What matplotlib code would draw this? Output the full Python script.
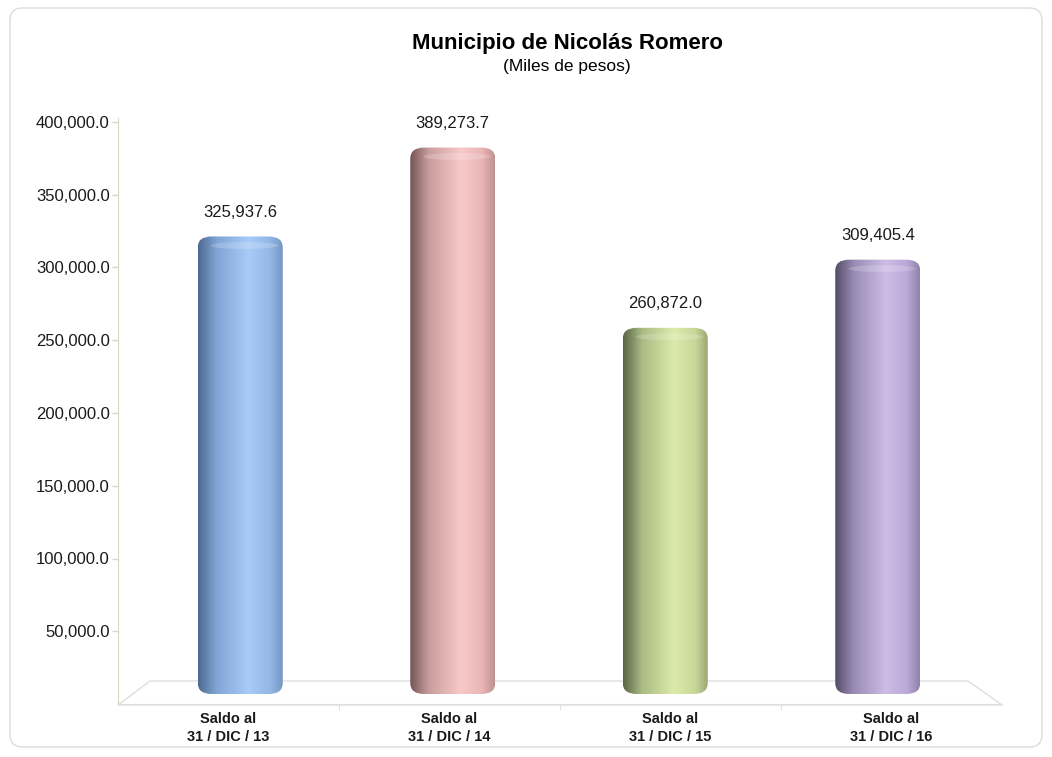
import numpy as np
import matplotlib
matplotlib.use("Agg")
import matplotlib.pyplot as plt
from matplotlib.patches import FancyBboxPatch, Polygon, Ellipse
from matplotlib.colors import to_rgb
from matplotlib.ticker import FuncFormatter, FixedLocator

# ---- data ----
categories = ["Saldo al\n31 / DIC / 13", "Saldo al\n31 / DIC / 14",
              "Saldo al\n31 / DIC / 15", "Saldo al\n31 / DIC / 16"]
values = [325937.6, 389273.7, 260872.0, 309405.4]
yticks = [50000, 100000, 150000, 200000, 250000, 300000, 350000, 400000]
title = "Municipio de Nicolás Romero"
subtitle = "(Miles de pesos)"

# colour stops per bar: dark edge, mid, highlight, mid, right edge
bar_colors = [
    ["#4f6990", "#80a6d6", "#a9cbf7", "#93b7e6", "#7696c2"],
    ["#745454", "#ca9d9d", "#f8c9c9", "#eab5b5", "#bf9191"],
    ["#5a6544", "#a9ba84", "#dcebaa", "#c9d898", "#9aa873"],
    ["#544b66", "#9a8bb6", "#cdbde6", "#baa8d7", "#9082a8"],
]

plt.rcParams['font.family'] = ['Liberation Sans', 'DejaVu Sans']

W, H = 1052, 757
fig = plt.figure(figsize=(W / 100, H / 100), dpi=100)
fig.patch.set_facecolor("white")

def fx(px):
    return px / W

def fy(py):
    return 1 - py / H

# outer rounded border
border = FancyBboxPatch((fx(10), fy(747)), fx(1042) - fx(10), fy(8) - fy(747),
                        boxstyle="round,pad=0,rounding_size=0.012",
                        mutation_aspect=W / H,
                        transform=fig.transFigure, facecolor="none",
                        edgecolor="#dcdcdc", linewidth=1.0, zorder=-2)
fig.patches.append(border)

# floor (3D plane)
floor = Polygon([(fx(118), fy(705)), (fx(1002), fy(705)),
                 (fx(968), fy(681)), (fx(150), fy(681))],
                closed=True, transform=fig.transFigure, facecolor="none",
                edgecolor="#dedede", linewidth=1.0, zorder=-1)
fig.patches.append(floor)

# main (front) axes: value axis & category labels
ax = fig.add_axes([fx(118), fy(704), fx(1002) - fx(118), fy(122) - fy(704)])
ax.set_xlim(-0.5, len(categories) - 0.5)
ax.set_ylim(0, 400000)
ax.patch.set_visible(False)
for s in ["top", "right"]:
    ax.spines[s].set_visible(False)
ax.spines["bottom"].set_color("#dedede")
ax.spines["left"].set_color("#d6d9c6")
ax.spines["left"].set_bounds(0, 403000)
ax.yaxis.set_major_locator(FixedLocator(yticks))
ax.yaxis.set_major_formatter(FuncFormatter(lambda v, p: f"{v:,.1f}"))
ax.tick_params(axis="y", length=4, width=1, color="#d6d9c6", pad=2,
               labelsize=12, labelcolor="#1a1a1a")
ax.set_xticks(range(len(categories)))
ax.set_xticklabels(categories, fontweight="bold", fontsize=10.5,
                   color="#1a1a1a", linespacing=1.3)
ax.set_xticks([0.5, 1.5, 2.5], minor=True)
ax.tick_params(axis="x", which="major", length=0, pad=6)
ax.tick_params(axis="x", which="minor", length=4, color="#dedede")

# bar plane axes (set back into the 3D floor)
bax = fig.add_axes([fx(134), fy(694), fx(984) - fx(134), fy(132.5) - fy(694)])
bax.set_xlim(-0.5, len(categories) - 0.5)
bax.set_ylim(0, 400000)
bax.axis("off")
bax.patch.set_visible(False)

sx = bax.bbox.width / (len(categories))          # px per x unit
sy = bax.bbox.height / 400000.0                   # px per y unit
bar_w = 85 / sx
rx = 14 / sx
ry = 11 / sy

stops = [0.0, 0.22, 0.6, 0.85, 1.0]
t = np.linspace(0, 1, 200)
for i, (v, cols) in enumerate(zip(values, bar_colors)):
    rgb = np.array([to_rgb(c) for c in cols])
    grad = np.stack([np.interp(t, stops, rgb[:, k]) for k in range(3)], axis=-1)
    grad = grad[np.newaxis, :, :]
    x0 = i - bar_w / 2
    patch = FancyBboxPatch((x0, 0), bar_w, v,
                           boxstyle=f"round,pad=0,rounding_size={rx}",
                           mutation_aspect=ry / rx,
                           facecolor="none", edgecolor="none", zorder=3)
    bax.add_patch(patch)
    im = bax.imshow(grad, extent=[x0, x0 + bar_w, 0, v], aspect="auto",
                    interpolation="bilinear", zorder=3)
    im.set_clip_path(patch)
    # subtle light band on the top cap
    cap = Ellipse((i + 0.05 * bar_w, v - 9 / sy), bar_w * 0.8, 7 / sy,
                  facecolor="white", edgecolor="none", alpha=0.18, zorder=4)
    bax.add_patch(cap)
    cap.set_clip_path(patch)
    bax.annotate(f"{v:,.1f}", xy=(i, v), xytext=(0, 12),
                 textcoords="offset points", ha="center", va="bottom",
                 fontsize=12, color="#1a1a1a")

# titles
fig.text(fx(568), fy(44), title, ha="center", va="center",
         fontsize=16, fontweight="bold", color="#000000")
fig.text(fx(567), fy(67), subtitle, ha="center", va="center",
         fontsize=12.5, color="#000000")

fig.savefig("out.png", dpi=100)
